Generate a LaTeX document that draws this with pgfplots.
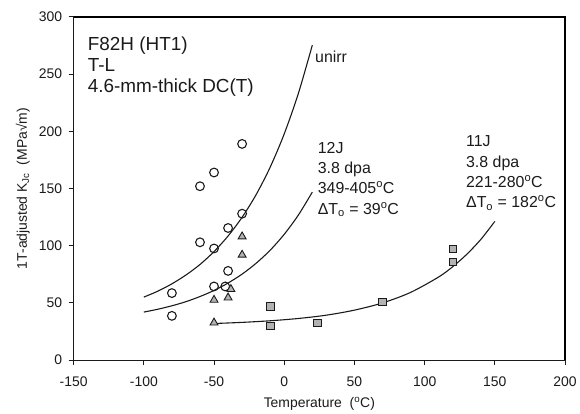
\documentclass[border=0pt]{standalone}
\usepackage{fontspec}
\setmainfont{Liberation Sans}
\usepackage{pgfplots}
\pgfplotsset{compat=1.18}
\definecolor{mkgray}{HTML}{B2B2B2}
\definecolor{ink}{HTML}{1A1A1A}
\begin{document}
\begin{tikzpicture}
\begin{axis}[
  at={(0pt,0pt)}, anchor=south west,
  scale only axis, width=494pt, height=345pt,
  xmin=-150, xmax=200, ymin=0, ymax=300,
  xtick={-150,-100,-50,0,50,100,150,200},
  ytick={0,50,100,150,200,250,300},
  tick align=outside, tick pos=left,
  major tick length=5pt,
  axis line style={line width=1.1pt, ink},
  every tick/.style={ink, line width=1pt},
  tick label style={font=\fontsize{14}{14}\selectfont, color=ink},
  xticklabel style={yshift=-8pt},
  yticklabel style={xshift=-3pt},
  /pgf/number format/assume math mode=true,
  xlabel={Temperature\ \ (\textsuperscript{o}C)},
  ylabel={1T-adjusted K\textsubscript{Jc}\ \ (MPa√m)},
  label style={font=\fontsize{14}{14}\selectfont, color=ink},
  xlabel style={at={(axis description cs:0.5,0)}, anchor=center, yshift=-44pt},
  ylabel style={at={(axis description cs:0,0.5)}, anchor=center, yshift=51pt},
  clip=false,
]
% unirr fit curve
\addplot[ink, line width=1.1pt, smooth, no marks] coordinates {
(-100,55.1) (-90,60.3) (-80,66.7) (-70,74.4) (-60,83.6) (-50,94.9) (-40,108.5)
(-30,124.9) (-20,144.7) (-10,168.7) (0,197.8) (10,232.9) (20,275.3)};
% 12J fit curve
\addplot[ink, line width=1.1pt, smooth, no marks] coordinates {
(-100,42.0) (-90,44.5) (-80,47.5) (-70,51.1) (-60,55.6) (-50,60.9) (-40,67.4)
(-30,75.2) (-20,84.7) (-10,96.1) (0,110.0) (10,126.7) (20,146.9)};
% 11J fit curve
\addplot[ink, line width=1.1pt, smooth, no marks] coordinates {
(-50,32.0) (-30,33.0) (-10,34.4) (10,36.4) (30,39.3) (50,43.7) (70,50.0)
(90,59.2) (110,72.7) (120,81.7) (130,92.5) (140,105.5) (150,121.3)};
% unirr data
\addplot[only marks, mark=o, mark size=4.4pt, mark options={ink, line width=1.1pt}] coordinates {
(-30,189) (-50,164) (-60,152) (-30,128) (-40,115.5) (-60,103) (-50,97.6)
(-40,78) (-50,64.4) (-42,64.4) (-80,58.6) (-80,38.7)};
% 12J data
\addplot[only marks, mark=triangle*, mark size=4.6pt, mark options={draw=ink, fill=mkgray, line width=0.9pt}] coordinates {
(-30,108) (-30,92) (-38,62) (-50,52.6) (-40,54.6) (-50,32.7)};
% 11J data
\addplot[only marks, mark=square*, mark size=3.8pt, mark options={draw=ink, fill=mkgray, line width=0.9pt}] coordinates {
(-10,46.7) (-10,30) (23.5,32.6) (70,51) (120,97) (120,86)};
% annotations
\node[anchor=base west, font=\fontsize{19}{19}\selectfont, text=ink, inner sep=0pt] at (axis cs:-140,270.4) {F82H (HT1)};
\node[anchor=base west, font=\fontsize{19}{19}\selectfont, text=ink, inner sep=0pt] at (axis cs:-140,252.4) {T-L};
\node[anchor=base west, font=\fontsize{19}{19}\selectfont, text=ink, inner sep=0pt] at (axis cs:-140,234.2) {4.6-mm-thick DC(T)};
\node[anchor=base west, font=\fontsize{16}{16}\selectfont, text=ink, inner sep=0pt] at (axis cs:21.9,260.2) {unirr};
\node[anchor=base west, font=\fontsize{16}{16}\selectfont, text=ink, inner sep=0pt] at (axis cs:23.8,180.9) {12J};
\node[anchor=base west, font=\fontsize{16}{16}\selectfont, text=ink, inner sep=0pt] at (axis cs:23.8,163.1) {3.8 dpa};
\node[anchor=base west, font=\fontsize{16}{16}\selectfont, text=ink, inner sep=0pt] at (axis cs:23.8,145.3) {349-405\textsuperscript{o}C};
\node[anchor=base west, font=\fontsize{16}{16}\selectfont, text=ink, inner sep=0pt] at (axis cs:23.8,127.5) {ΔT\textsubscript{o} = 39\textsuperscript{o}C};
\node[anchor=base west, font=\fontsize{16}{16}\selectfont, text=ink, inner sep=0pt] at (axis cs:129.4,186.6) {11J};
\node[anchor=base west, font=\fontsize{16}{16}\selectfont, text=ink, inner sep=0pt] at (axis cs:129.4,168.8) {3.8 dpa};
\node[anchor=base west, font=\fontsize{16}{16}\selectfont, text=ink, inner sep=0pt] at (axis cs:129.4,151.0) {221-280\textsuperscript{o}C};
\node[anchor=base west, font=\fontsize{16}{16}\selectfont, text=ink, inner sep=0pt] at (axis cs:129.4,133.2) {ΔT\textsubscript{o} = 182\textsuperscript{o}C};
\draw[black, line width=2.2pt] (rel axis cs:0,1) -- (rel axis cs:1,1) -- (rel axis cs:1,0);
\end{axis}
\path (-74pt,-50pt) rectangle (506pt,362pt);
\end{tikzpicture}
\end{document}
